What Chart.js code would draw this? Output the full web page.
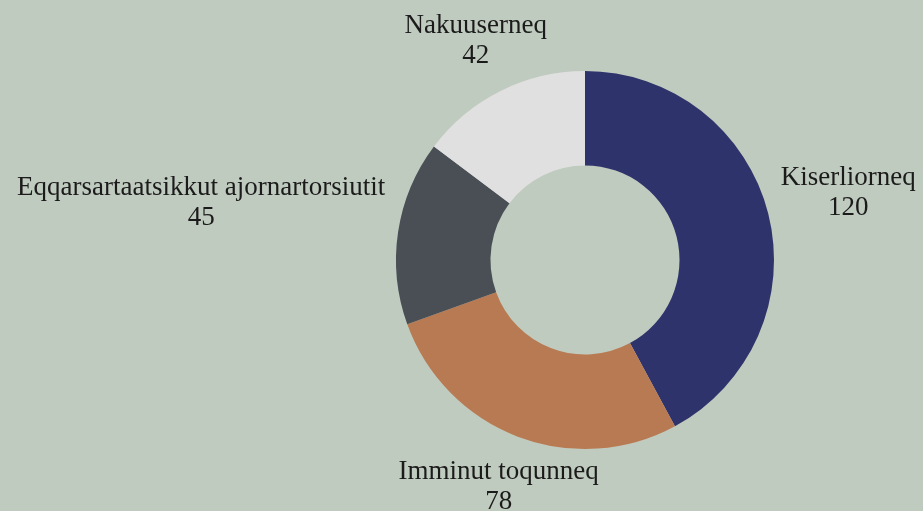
<!DOCTYPE html>
<html>
<head>
<meta charset="utf-8">
<script src="https://cdn.jsdelivr.net/npm/chart.js@4.4.1/dist/chart.umd.min.js"></script>
<style>
  html, body { margin: 0; padding: 0; background: #c0cbbf; }
  #wrap { width: 923px; height: 511px; position: relative; }
</style>
</head>
<body>
<div id="wrap"><canvas id="donut"></canvas></div>
<script>
const categories = ['Kiserliorneq', 'Imminut toqunneq', 'Eqqarsartaatsikkut ajornartorsiutit', 'Nakuuserneq'];
const counts = [120, 78, 45, 42];
const sliceColors = ['#2f336b', '#b87a52', '#4a4f56', '#e0e0e0'];

const labelFont = '27px "Liberation Serif", serif';
const lineHeight = 30;
const labelGap = 13;
const labelPadY = 8;

// Labels sit on the ray through the middle of each slice, pushed out until the box clears the ring
const outsideLabels = {
  id: 'outsideLabels',
  afterDatasetsDraw(chart) {
    const ctx = chart.ctx;
    const meta = chart.getDatasetMeta(0);
    ctx.save();
    ctx.font = labelFont;
    ctx.fillStyle = '#1b1b1b';
    ctx.textAlign = 'center';
    ctx.textBaseline = 'middle';
    meta.data.forEach((arc, i) => {
      const p = arc.getProps(['x', 'y', 'startAngle', 'endAngle', 'outerRadius'], true);
      const mid = (p.startAngle + p.endAngle) / 2;
      const vx = Math.cos(mid);
      const vy = Math.sin(mid);
      const lines = [categories[i], String(counts[i])];
      const w = Math.max(...lines.map(s => ctx.measureText(s).width));
      const h = lines.length * lineHeight + labelPadY * 2;
      const ex = Math.abs(vx) > 1e-6 ? (w / 2) / Math.abs(vx) : Infinity;
      const ey = Math.abs(vy) > 1e-6 ? (h / 2) / Math.abs(vy) : Infinity;
      const t = p.outerRadius + labelGap + Math.min(ex, ey);
      const cx = p.x + vx * t;
      const cy = p.y + vy * t;
      lines.forEach((s, k) => {
        ctx.fillText(s, cx, cy + (k - (lines.length - 1) / 2) * lineHeight);
      });
    });
    ctx.restore();
  }
};

new Chart(document.getElementById('donut'), {
  type: 'doughnut',
  data: {
    labels: categories,
    datasets: [{
      data: counts,
      backgroundColor: sliceColors,
      borderWidth: 0,
      hoverOffset: 0
    }]
  },
  options: {
    responsive: true,
    maintainAspectRatio: false,
    animation: false,
    cutout: '50%',
    layout: { padding: { left: 396, right: 149, top: 71, bottom: 62 } },
    plugins: {
      legend: { display: false },
      tooltip: { enabled: false }
    }
  },
  plugins: [outsideLabels]
});
</script>
</body>
</html>
